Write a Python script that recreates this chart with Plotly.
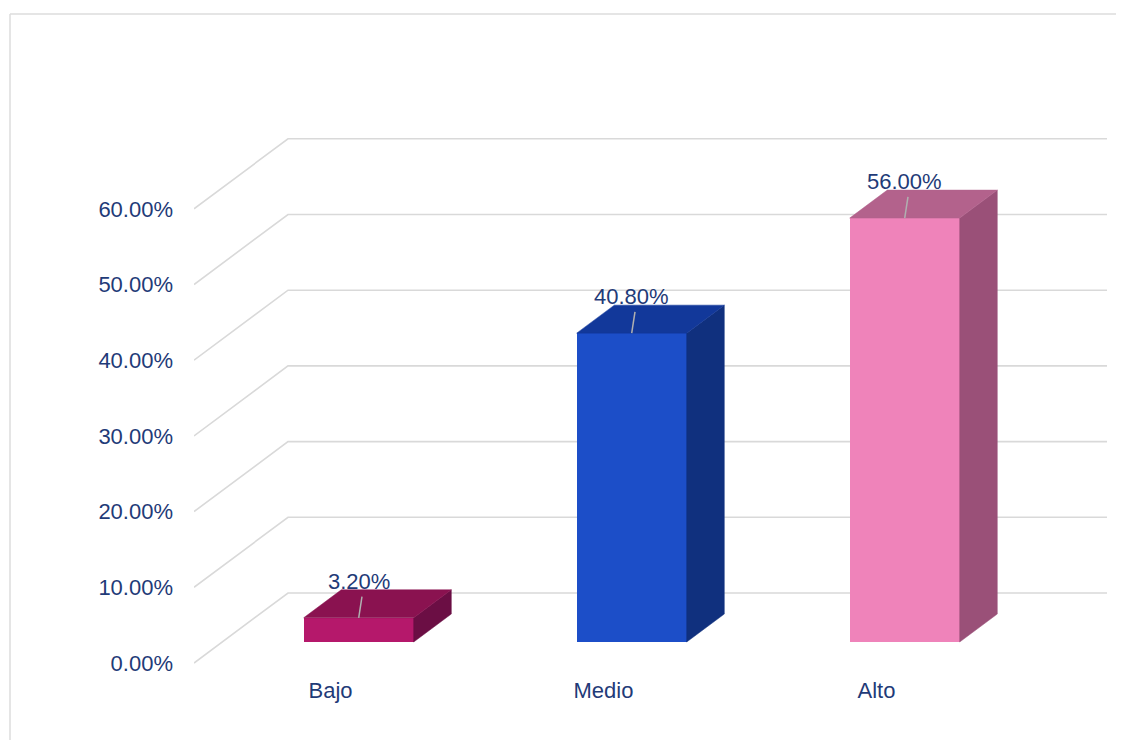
import plotly.graph_objects as go

# ---- data ----
categories = ["Bajo", "Medio", "Alto"]
values = [3.2, 40.8, 56.0]
value_labels = ["3.20%", "40.80%", "56.00%"]
y_ticks = [0, 10, 20, 30, 40, 50, 60]
y_tick_labels = ["0.00%", "10.00%", "20.00%", "30.00%", "40.00%", "50.00%", "60.00%"]

front_colors = ["#b5186b", "#1c4ec8", "#ef83ba"]
top_colors = ["#8a1250", "#12389a", "#b3628c"]
side_colors = ["#6b0e44", "#10307e", "#9a5078"]

TEXT = "#1f3b78"
GRID = "#d9d9d9"
FONT = "Liberation Sans, Arial, sans-serif"

# ---- layout geometry (page pixels) ----
W, H = 1124, 740
OFF = 8  # page body margin
L, R, T, B = 194, 16, 20, 75
PX_PER_X = 273.0
PX_PER_Y = 7.57
Y0_PX = 663.0
plot_w = W - L - R
plot_h = H - T - B
x_range = [-0.5, -0.5 + plot_w / PX_PER_X]
y_min = -((H - B) - Y0_PX) / PX_PER_Y
y_range = [y_min, y_min + plot_h / PX_PER_Y]

# pseudo-3D depth offsets (data units)
DX = 94 / PX_PER_X
DY = 70 / PX_PER_Y
D_FRONT, D_BACK = 0.3, 0.7
BAR_W = 110 / PX_PER_X

fig = go.Figure()

# gridlines (below traces): floor/side diagonal + back wall
xl, xr = x_range[0], 2.5
for v in y_ticks:
    fig.add_shape(type="path", xref="x", yref="y", layer="below",
                  path=f"M {xl},{v} L {xl + DX},{v + DY} L {xr + DX},{v + DY}",
                  line=dict(color=GRID, width=1.6))

# bars: side and top faces
for i, v in enumerate(values):
    xc = i + D_FRONT * DX
    x0, x1 = xc - BAR_W / 2, xc + BAR_W / 2
    yb, yt = D_FRONT * DY, v + D_FRONT * DY
    ddx, ddy = (D_BACK - D_FRONT) * DX, (D_BACK - D_FRONT) * DY
    fig.add_trace(go.Scatter(
        x=[x1, x1 + ddx, x1 + ddx, x1, x1],
        y=[yt, yt + ddy, yb + ddy, yb, yt],
        mode="lines", fill="toself", fillcolor=side_colors[i],
        line=dict(width=0.5, color=side_colors[i]),
        hoverinfo="skip", showlegend=False))
    fig.add_trace(go.Scatter(
        x=[x0, x1, x1 + ddx, x0 + ddx, x0],
        y=[yt, yt, yt + ddy, yt + ddy, yt],
        mode="lines", fill="toself", fillcolor=top_colors[i],
        line=dict(width=0.5, color=top_colors[i]),
        hoverinfo="skip", showlegend=False))

# front faces
fig.add_trace(go.Bar(
    x=[i + D_FRONT * DX for i in range(len(values))],
    y=values,
    base=[D_FRONT * DY] * len(values),
    width=BAR_W,
    marker=dict(color=front_colors, line=dict(width=0)),
    hoverinfo="skip", showlegend=False))

# leader lines + labels
for i, v in enumerate(values):
    xc = i + D_FRONT * DX
    fig.add_trace(go.Scatter(
        x=[xc + 0.012, xc], y=[v + D_BACK * DY - 0.9, v + D_FRONT * DY],
        mode="lines", line=dict(color="#b0b0b0", width=1.5),
        hoverinfo="skip", showlegend=False))
    fig.add_annotation(
        x=xc, y=v + D_BACK * DY, text=value_labels[i], showarrow=False,
        xanchor="center", yanchor="bottom", yshift=-6,
        font=dict(family=FONT, size=22, color=TEXT))


def px2paper_x(px):
    return (px - L) / plot_w


def px2paper_y(py):
    return ((H - B) - py) / plot_h


# outer frame (top and left border)
fig.add_shape(type="line", xref="paper", yref="paper",
              x0=px2paper_x(10), x1=px2paper_x(W + 5),
              y0=px2paper_y(14), y1=px2paper_y(14),
              line=dict(color="#dddddd", width=1.5))
fig.add_shape(type="line", xref="paper", yref="paper",
              x0=px2paper_x(10), x1=px2paper_x(10),
              y0=px2paper_y(14), y1=px2paper_y(H + 5),
              line=dict(color="#dddddd", width=1.5))

fig.update_layout(
    width=W - OFF, height=H - OFF,
    margin=dict(l=L - OFF, r=R, t=T - OFF, b=B),
    paper_bgcolor="white", plot_bgcolor="white",
    font=dict(family=FONT, size=22, color=TEXT),
    bargap=0,
    xaxis=dict(range=x_range, tickvals=[0, 1, 2], ticktext=categories,
               showgrid=False, zeroline=False, showline=False, ticks="",
               ticklabelstandoff=10, fixedrange=True),
    yaxis=dict(range=y_range, tickvals=y_ticks, ticktext=y_tick_labels,
               showgrid=False, zeroline=False, showline=False, ticks="",
               ticklabelstandoff=20, fixedrange=True),
    showlegend=False,
)

fig.write_html("out.html")
